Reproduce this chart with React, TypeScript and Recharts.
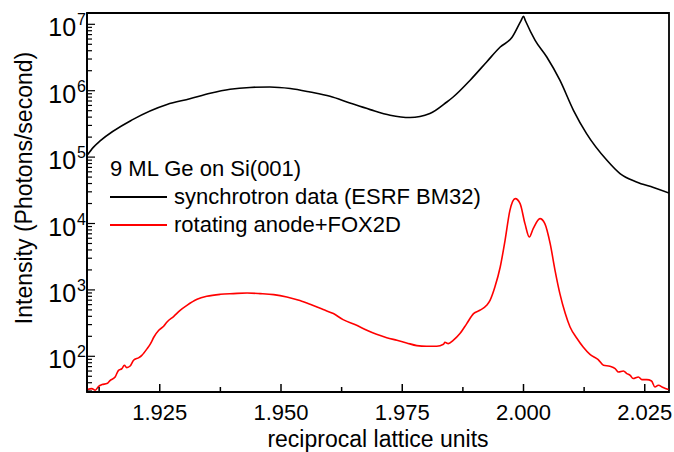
import React from "react";
import { LineChart, Line, XAxis, YAxis, ReferenceArea } from "recharts";

// synchrotron data (ESRF BM32)
const synchX = [1.91, 1.9113, 1.9127, 1.9195, 1.9265, 1.9312, 1.9354, 1.9395, 1.9436, 1.9477, 1.9519, 1.956, 1.9601, 1.9642, 1.9684, 1.9725, 1.9766, 1.9807, 1.9842, 1.9855, 1.989, 1.9924, 1.9952, 1.9976, 1.9995, 2.0, 2.0004, 2.0024, 2.0048, 2.0075, 2.0103, 2.013, 2.0172, 2.0199, 2.0233, 2.0268, 2.03];
const synchY = [106000, 140000, 175000, 370000, 620000, 755000, 914000, 1050000, 1120000, 1140000, 1080000, 955000, 824000, 653000, 519000, 427000, 394000, 452000, 676000, 804000, 1440000, 2710000, 4550000, 6310000, 11400000, 13200000, 11300000, 5740000, 3220000, 1440000, 507000, 226000, 89500, 56500, 42200, 34800, 28800];

// rotating anode + FOX2D
const anodeX = [1.91, 1.911, 1.9117, 1.9124, 1.9131, 1.9141, 1.9148, 1.9158, 1.9165, 1.9172, 1.9177, 1.9182, 1.9189, 1.9196, 1.9207, 1.9213, 1.9224, 1.9231, 1.9238, 1.9248, 1.9258, 1.9265, 1.9279, 1.9292, 1.9306, 1.9327, 1.9347, 1.9375, 1.9402, 1.943, 1.9457, 1.9485, 1.9512, 1.9539, 1.956, 1.9587, 1.9608, 1.9628, 1.9656, 1.9677, 1.9697, 1.9718, 1.9739, 1.9759, 1.978, 1.98, 1.9821, 1.9835, 1.9838, 1.9845, 1.9855, 1.9869, 1.9883, 1.9897, 1.991, 1.9924, 1.9931, 1.9941, 1.9952, 1.9962, 1.9972, 1.9983, 1.9993, 2.0003, 2.0012, 2.002, 2.0034, 2.0044, 2.0055, 2.0065, 2.0075, 2.0086, 2.0096, 2.011, 2.0123, 2.0137, 2.0154, 2.0165, 2.0178, 2.0189, 2.0196, 2.0206, 2.0213, 2.022, 2.0226, 2.0237, 2.0244, 2.0254, 2.0264, 2.0271, 2.0278, 2.0288, 2.0299];
const anodeY = [31.5, 32.6, 30.8, 35.3, 37.5, 38.8, 43.5, 48.8, 61.5, 65.3, 73.2, 67.6, 71.4, 87.1, 95.6, 103.5, 130.6, 155.4, 195.3, 246.4, 283.1, 328.6, 400.4, 493, 586, 722, 801, 858, 880, 898, 880, 849, 782, 690, 607, 505, 440, 357, 293, 246, 214, 191, 174, 159, 145, 141.5, 141.5, 151.6, 162.5, 155.4, 174, 220, 311, 440, 493, 586, 697, 1106, 2213, 5585, 15800, 23700, 19900, 9965, 6260, 8380, 11850, 9965, 4982, 1974, 880, 444, 276, 187, 138, 107, 89.2, 73.2, 70.7, 65.3, 58.0, 60.1, 54.9, 51.7, 46.2, 48.8, 44.6, 44.6, 42.5, 34.5, 36.6, 33.8, 31.5];

const xMajor = [1.925, 1.95, 1.975, 2.0, 2.025];
const xMinor = [1.9125, 1.9375, 1.9625, 1.9875, 2.0125];
const yMajor = [1e2, 1e3, 1e4, 1e5, 1e6, 1e7];

const X_DOMAIN = [1.91, 2.03];
const Y_DOMAIN = [29, 1.48e7];

const yMinor: number[] = [];
for (let n = 1; n <= 7; n++) {
  for (let k = 2; k <= 9; k++) {
    const v = k * Math.pow(10, n);
    if (v > Y_DOMAIN[0] && v < Y_DOMAIN[1]) yMinor.push(v);
  }
}

const synchData = synchX.map((x, i) => ({ x, y: synchY[i] }));
const anodeData = anodeX.map((x, i) => ({ x, y: anodeY[i] }));

const FONT = "'Liberation Sans', Arial, sans-serif";
const PLOT_LEFT = 87;
const PLOT_BOTTOM = 392;

const XTick = (props: any) => {
  const { x, payload } = props;
  const major = xMajor.some((m) => Math.abs(m - payload.value) < 1e-6);
  return (
    <g>
      <line x1={x} x2={x} y1={PLOT_BOTTOM} y2={PLOT_BOTTOM - (major ? 8 : 5)} stroke="#000" strokeWidth={1.5} />
      {major && (
        <text x={x} y={PLOT_BOTTOM + 28} textAnchor="middle" fontSize={22} fontFamily={FONT} fill="#000">
          {payload.value.toFixed(3)}
        </text>
      )}
    </g>
  );
};

const YTick = (props: any) => {
  const { y, payload } = props;
  const major = yMajor.some((m) => Math.abs(m - payload.value) < 1e-6 * m);
  const exp = Math.round(Math.log10(payload.value));
  return (
    <g>
      <line x1={PLOT_LEFT} x2={PLOT_LEFT + (major ? 8 : 5)} y1={y} y2={y} stroke="#000" strokeWidth={1.2} />
      {major && (
        <text x={PLOT_LEFT - 1} y={y + 12} textAnchor="end" fontSize={25} fontFamily={FONT} fill="#000">
          10
          <tspan dx={1} dy={-11} fontSize={16}>{exp}</tspan>
        </text>
      )}
    </g>
  );
};

const XTitle = () => (
  <text x={378} y={447} textAnchor="middle" fontSize={23} fontFamily={FONT} fill="#000">
    reciprocal lattice units
  </text>
);

const YTitle = () => (
  <text x={32} y={188} textAnchor="middle" fontSize={23} fontFamily={FONT} fill="#000" transform="rotate(-90 32 188)">
    Intensity (Photons/second)
  </text>
);

const legendRow: React.CSSProperties = { display: "flex", alignItems: "center", height: 28, whiteSpace: "nowrap" };
const legendLine = (color: string): React.CSSProperties => ({
  display: "inline-block",
  width: 57,
  height: 2,
  background: color,
  marginRight: 7,
});

export default function App() {
  return (
    <div style={{ position: "absolute", left: 0, top: 0, width: 674, height: 452, background: "#fff", fontFamily: FONT }}>
      <LineChart width={674} height={452} margin={{ top: 13, right: 5, bottom: 0, left: 0 }}>
        <XAxis
          dataKey="x"
          type="number"
          domain={X_DOMAIN}
          ticks={[...xMinor, ...xMajor].sort((a, b) => a - b)}
          interval={0}
          allowDataOverflow
          height={60}
          tickLine={false}
          axisLine={{ stroke: "#000", strokeWidth: 1.8 }}
          tick={<XTick />}
          label={<XTitle />}
        />
        <YAxis
          type="number"
          scale="log"
          domain={Y_DOMAIN}
          ticks={[...yMinor, ...yMajor].sort((a, b) => a - b)}
          interval={0}
          allowDataOverflow
          width={87}
          tickLine={false}
          axisLine={{ stroke: "#000", strokeWidth: 1.8 }}
          tick={<YTick />}
          label={<YTitle />}
        />
        <ReferenceArea x1={X_DOMAIN[0]} x2={X_DOMAIN[1]} y1={Y_DOMAIN[0]} y2={Y_DOMAIN[1]} fill="none" stroke="#000" strokeWidth={1.8} />
        <Line data={synchData} dataKey="y" name="synchrotron data (ESRF BM32)" type="monotoneX" stroke="#000" strokeWidth={1.6} dot={false} isAnimationActive={false} />
        <Line data={anodeData} dataKey="y" name="rotating anode+FOX2D" type="monotoneX" stroke="#ff0000" strokeWidth={1.6} dot={false} isAnimationActive={false} />
      </LineChart>
      <div style={{ position: "absolute", left: 110, top: 155, fontSize: 22, color: "#000", lineHeight: "28px" }}>
        <div style={legendRow}>9 ML Ge on Si(001)</div>
        <div style={legendRow}>
          <span style={legendLine("#000")} />
          synchrotron data (ESRF BM32)
        </div>
        <div style={legendRow}>
          <span style={legendLine("#ff0000")} />
          rotating anode+FOX2D
        </div>
      </div>
    </div>
  );
}
